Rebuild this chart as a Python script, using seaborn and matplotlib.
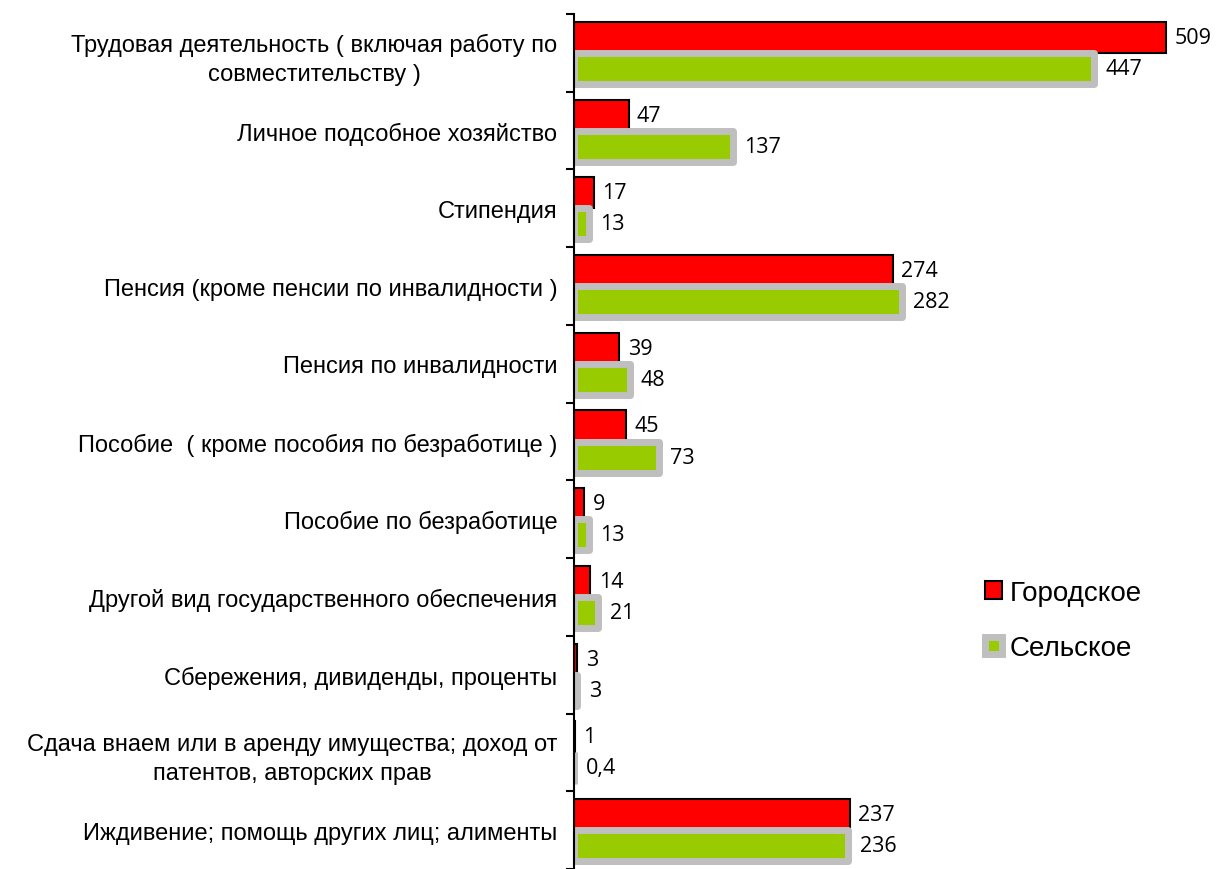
import pandas as pd
import matplotlib.pyplot as plt
import seaborn as sns
from matplotlib.patches import Patch

# Data
categories = [
    "Трудовая деятельность ( включая работу по\nсовместительству )",
    "Личное подсобное хозяйство",
    "Стипендия",
    "Пенсия (кроме пенсии по инвалидности )",
    "Пенсия по инвалидности",
    "Пособие  ( кроме пособия по безработице )",
    "Пособие по безработице",
    "Другой вид государственного обеспечения",
    "Сбережения, дивиденды, проценты",
    "Сдача внаем или в аренду имущества; доход от\nпатентов, авторских прав",
    "Иждивение; помощь других лиц; алименты",
]
urban = [509, 47, 17, 274, 39, 45, 9, 14, 3, 1, 237]
rural = [447, 137, 13, 282, 48, 73, 13, 21, 3, 0.4, 236]
urban_labels = ["509", "47", "17", "274", "39", "45", "9", "14", "3", "1", "237"]
rural_labels = ["447", "137", "13", "282", "48", "73", "13", "21", "3", "0,4", "236"]
series = ["Городское", "Сельское"]

df = pd.DataFrame({
    "cat": categories * 2,
    "value": urban + rural,
    "type": [series[0]] * len(urban) + [series[1]] * len(rural),
})

sns.set_style("white")
plt.rcParams["font.family"] = ["Liberation Sans", "DejaVu Sans"]
plt.rcParams["text.color"] = "black"
plt.rcParams["ytick.labelcolor"] = "black"

red = "#FF0000"
green = "#99CC00"
gray = "#BFBFBF"

fig = plt.figure(figsize=(12.16, 8.7), dpi=100)
ax = fig.add_axes([574 / 1216, 0.0, (1210 - 574) / 1216, 1 - 15 / 870])

sns.barplot(data=df, y="cat", x="value", hue="type", hue_order=series,
            orient="h", palette=[red, green], saturation=1, width=0.8, gap=0,
            ax=ax, legend=False)

# bar styling
for p in ax.containers[0]:
    p.set_edgecolor("black")
    p.set_linewidth(1.5)
for p in ax.containers[1]:
    p.set_edgecolor(gray)
    p.set_linewidth(5)
    p.set_joinstyle("round")

num_font = ["Open Sans", "DejaVu Sans"]
ax.bar_label(ax.containers[0], labels=urban_labels, padding=6,
             fontsize=15.5, family=num_font, color="black")
ax.bar_label(ax.containers[1], labels=rural_labels, padding=8,
             fontsize=15.5, family=num_font, color="black")

ax.set_xlim(0, (1210 - 574) / ((1166 - 574) / 509))
ax.set_ylim(len(categories) - 0.5, -0.5)
ax.set_xlabel("")
ax.set_ylabel("")
ax.set_xticks([])

# category labels at centres, tick marks at boundaries
ax.set_yticks(range(len(categories)))
ax.set_yticklabels(categories, fontsize=17, ha="right", multialignment="center",
                   linespacing=1.4, color="black")
ax.tick_params(axis="y", which="major", left=False, length=0, pad=12)
ax.set_yticks([i - 0.5 for i in range(len(categories) + 1)], minor=True)
ax.tick_params(axis="y", which="minor", left=True, length=6, width=1.5,
               direction="out", color="black")

for s in ["top", "right", "bottom"]:
    ax.spines[s].set_visible(False)
ax.spines["left"].set_color("black")
ax.spines["left"].set_linewidth(1.5)

handles = [
    Patch(facecolor=red, edgecolor="black", linewidth=1.5),
    Patch(facecolor=green, edgecolor=gray, linewidth=5, joinstyle="round"),
]
fig.legend(handles, series, loc="upper left", bbox_to_anchor=(960 / 1216, 1 - 556 / 870),
           frameon=False, fontsize=20, handlelength=0.6, handleheight=0.6,
           handletextpad=0.3, labelspacing=1.05, labelcolor="black")

fig.savefig("out.png", dpi=100)
